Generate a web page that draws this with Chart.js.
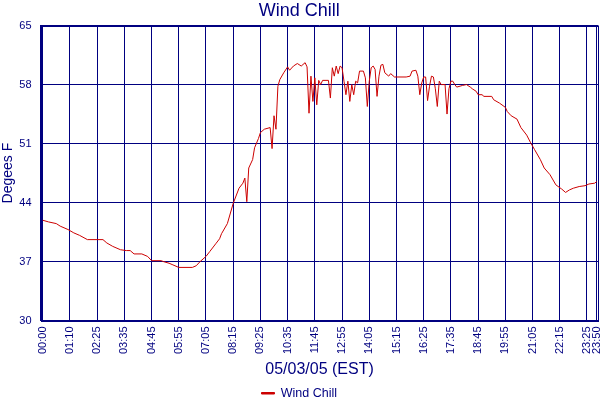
<!DOCTYPE html>
<html>
<head>
<meta charset="utf-8">
<title>Wind Chill</title>
<script src="https://cdn.jsdelivr.net/npm/chart.js@4.4.1/dist/chart.umd.min.js"></script>
<style>
    html, body { margin: 0; padding: 0; background: #fff; }
    #chartBox { width: 600px; height: 400px; position: relative; }
</style>
</head>
<body>
<div id="chartBox"><canvas id="windChart"></canvas></div>
<script>
// Sample number (5 minute readings, some missing) -> wind chill, deg F
const sampleIdx = [
    0, 3, 7, 9, 13, 16, 19, 23, 31, 33, 36, 40, 43, 45, 47, 51, 54, 56, 61, 62,
    65, 67, 70, 77, 79, 81, 84, 86, 89, 91, 92, 95, 98, 101, 103, 104, 105, 106, 108, 109,
    111, 112, 114, 117, 118, 119, 120, 121, 122, 124, 126, 127, 129, 131, 133, 135, 136, 137, 138, 139,
    140, 141, 142, 143, 144, 147, 148, 149, 150, 151, 152, 153, 154, 155, 156, 157, 158, 159, 160, 161,
    162, 163, 165, 166, 167, 168, 169, 170, 171, 172, 173, 174, 175, 176, 178, 179, 181, 187, 189, 190,
    192, 193, 194, 195, 196, 197, 198, 199, 200, 201, 202, 203, 204, 205, 207, 208, 209, 210, 211, 212,
    213, 216, 218, 220, 221, 223, 224, 226, 227, 231, 232, 235, 238, 239, 241, 244, 246, 249, 251, 253,
    256, 258, 261, 264, 267, 269, 271, 273, 276, 279, 281, 284, 285
];
const windChill = [
    41.9, 41.7, 41.5, 41.2, 40.8, 40.4, 40.1, 39.6, 39.6, 39.2, 38.8, 38.4, 38.3, 38.3, 37.9, 37.9, 37.6, 37.1, 37.1, 37.0,
    36.8, 36.6, 36.3, 36.3, 36.5, 37.0, 37.6, 38.2, 39.1, 39.7, 40.3, 41.5, 43.9, 45.7, 46.3, 46.9, 44.1, 48.1, 49.1, 50.5,
    51.6, 52.3, 52.7, 52.9, 50.4, 54.3, 52.7, 57.8, 58.6, 59.4, 60.1, 59.7, 60.2, 60.5, 60.2, 60.6, 60.1, 54.6, 59.0, 56.0,
    58.8, 55.6, 58.5, 58.0, 58.5, 58.5, 56.4, 60.0, 59.0, 60.2, 59.3, 60.2, 60.0, 58.4, 56.8, 58.4, 56.0, 58.0, 56.8, 58.4,
    58.2, 59.6, 59.6, 58.8, 55.4, 58.4, 60.0, 60.2, 59.8, 56.6, 59.0, 60.3, 60.4, 59.4, 59.0, 59.3, 58.9, 58.9, 59.0, 59.6,
    59.7, 59.0, 56.8, 58.2, 58.9, 58.9, 56.1, 57.8, 59.0, 58.9, 57.5, 55.4, 58.4, 58.0, 58.0, 54.5, 57.5, 58.4, 58.4, 58.0,
    57.7, 57.9, 58.0, 57.7, 57.5, 57.2, 56.8, 56.8, 56.6, 56.6, 56.2, 55.8, 55.3, 54.8, 54.3, 53.9, 52.9, 52.0, 51.1, 50.3,
    49.1, 48.1, 47.3, 46.1, 45.6, 45.2, 45.5, 45.7, 45.9, 46.0, 46.2, 46.3, 46.5
];

// x axis labels sit on these sample numbers
const tickIdx = [0, 14, 28, 42, 56, 70, 84, 98, 112, 126, 140, 154, 168, 182, 196, 210, 224, 238, 252, 266, 280, 285];
const tickLabels = [
    '00:00', '01:10', '02:25', '03:35', '04:45', '05:55', '07:05', '08:15', '09:25', '10:35', '11:45',
    '12:55', '14:05', '15:15', '16:25', '17:35', '18:45', '19:55', '21:05', '22:15', '23:25', '23:50'
];
const yTicks = [30, 37, 44, 51, 58, 65];

const NAVY = '#000080';
const RED = '#cc0000';
const FONT = "'Liberation Sans', Arial, sans-serif";

document.addEventListener('DOMContentLoaded', function () {
    renderChart();
});

/**
 * Frame round the plot area (right edge has no grid line of its own)
 */
const plotFrame = {
    id: 'plotFrame',
    beforeDatasetsDraw(chart) {
        const a = chart.chartArea;
        const ctx = chart.ctx;
        ctx.save();
        ctx.strokeStyle = NAVY;
        ctx.lineWidth = 1;
        ctx.strokeRect(Math.round(a.left) + 0.5, Math.round(a.top) + 0.5,
            Math.round(a.right - a.left) - 1, Math.round(a.bottom - a.top));
        ctx.restore();
    }
};

/**
 * Build the line chart
 */
function renderChart() {
    const ctx = document.getElementById('windChart');

    const points = sampleIdx.map((x, i) => ({ x: x, y: windChill[i] }));

    new Chart(ctx, {
        type: 'line',
        data: {
            datasets: [{
                label: 'Wind Chill',
                data: points,
                borderColor: RED,
                backgroundColor: RED,
                borderWidth: 1,
                pointRadius: 0,
                tension: 0,
                fill: false
            }]
        },
        options: {
            responsive: true,
            maintainAspectRatio: false,
            animation: false,
            // legend box is taller than its text, so let it hang below the canvas a little
            layout: { padding: { top: 0, right: 1.5, bottom: -9.5, left: 0 } },
            plugins: {
                title: {
                    display: true,
                    text: 'Wind Chill',
                    color: NAVY,
                    font: { size: 18, family: FONT, weight: 'normal' },
                    padding: { top: 0, bottom: 4 }
                },
                legend: {
                    display: true,
                    position: 'bottom',
                    labels: {
                        color: NAVY,
                        font: { size: 12.5, family: FONT },
                        boxWidth: 13,
                        boxHeight: 1.5,
                        padding: 2.5
                    }
                },
                tooltip: { enabled: false }
            },
            scales: {
                x: {
                    type: 'linear',
                    min: -1.13,
                    max: 285.93,
                    afterBuildTicks: function (axis) {
                        axis.ticks = tickIdx.map(v => ({ value: v }));
                    },
                    afterFit: function (axis) {
                        axis.paddingLeft = 0;
                        axis.paddingRight = 0;
                        axis.height = 64;
                    },
                    ticks: {
                        autoSkip: false,
                        minRotation: 90,
                        maxRotation: 90,
                        padding: 6,
                        color: NAVY,
                        font: { size: 11, family: FONT },
                        callback: function (value) {
                            const k = tickIdx.indexOf(value);
                            return k >= 0 ? tickLabels[k] : '';
                        }
                    },
                    grid: { color: NAVY, lineWidth: 1, drawTicks: false },
                    border: { color: NAVY },
                    title: {
                        display: true,
                        text: '05/03/05 (EST)',
                        color: NAVY,
                        font: { size: 16, family: FONT },
                        padding: { top: 0, bottom: 5 }
                    }
                },
                y: {
                    min: 30,
                    max: 65,
                    afterBuildTicks: function (axis) {
                        axis.ticks = yTicks.map(v => ({ value: v }));
                    },
                    afterFit: function (axis) {
                        axis.width = 40.5;
                    },
                    ticks: {
                        padding: 9,
                        color: NAVY,
                        font: { size: 11, family: FONT }
                    },
                    grid: { color: NAVY, lineWidth: 1, drawTicks: false },
                    border: { color: NAVY },
                    title: {
                        display: true,
                        text: 'Degees F',
                        color: NAVY,
                        font: { size: 14, family: FONT },
                        padding: { top: 0, bottom: 0 }
                    }
                }
            }
        },
        plugins: [plotFrame]
    });
}
</script>
</body>
</html>
